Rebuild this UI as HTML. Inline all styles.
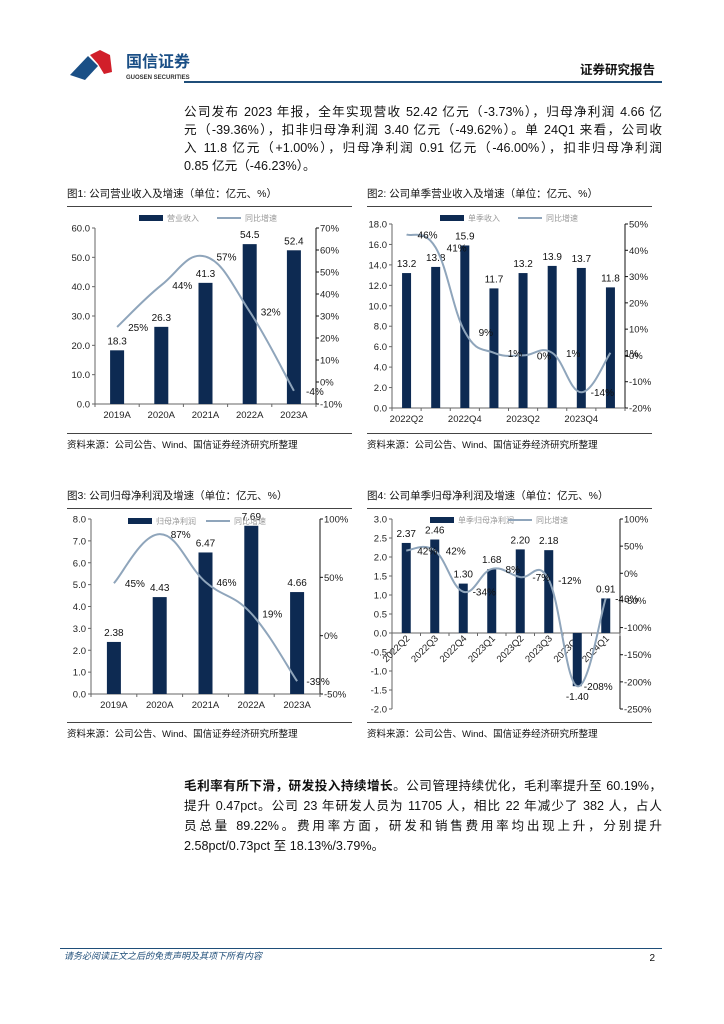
<!DOCTYPE html>
<html><head><meta charset="utf-8"><style>
body{margin:0;width:724px;height:1024px;background:#fff;position:relative;overflow:hidden;font-family:"Liberation Sans","Noto Sans CJK SC",sans-serif;}
.p{position:absolute;left:184px;width:478px;font-size:12.6px;line-height:18px;color:#111;text-align:justify;text-align-last:justify;}
.p span{display:block;}
.p span.last{text-align-last:left;}
svg{position:absolute;left:0;top:0;}
</style></head><body>
<svg width="724" height="1024" id="pg" font-family="Liberation Sans, Noto Sans CJK SC, sans-serif">
 <g>
  <polygon points="70,75 88,56 98,66 85,80" fill="#1a4f86"/>
  <polygon points="90,55 100,50 110,55 112,72 104,74 98,64" fill="#d11f2a"/>
  <text x="126" y="67" font-size="16" font-weight="bold" fill="#1a4f86">国信证券</text>
  <text x="126" y="79" font-size="6" font-weight="bold" fill="#333">GUOSEN SECURITIES</text>
 </g>
 <text x="655" y="74" text-anchor="end" font-size="12.5" font-weight="bold" fill="#111">证券研究报告</text>
 <rect x="184" y="81" width="478" height="2" fill="#1f4e79"/>
 <rect x="60" y="948" width="602" height="1" fill="#1f4e79"/>
 <text x="64" y="959" font-size="9" font-style="italic" fill="#1f4e79">请务必阅读正文之后的免责声明及其项下所有内容</text>
 <text x="655" y="961" font-size="10" text-anchor="end" fill="#111">2</text>
</svg>
<div class="p" style="top:103px">
<span>公司发布 2023 年报，全年实现营收 52.42 亿元（-3.73%），归母净利润 4.66 亿</span>
<span>元（-39.36%），扣非归母净利润 3.40 亿元（-49.62%）。单 24Q1 来看，公司收</span>
<span>入 11.8 亿元（+1.00%），归母净利润 0.91 亿元（-46.00%），扣非归母净利润</span>
<span class="last">0.85 亿元（-46.23%）。</span>
</div>
<div class="p" style="top:776px;line-height:20px">
<span><b>毛利率有所下滑，研发投入持续增长</b>。公司管理持续优化，毛利率提升至 60.19%，</span>
<span>提升 0.47pct。公司 23 年研发人员为 11705 人，相比 22 年减少了 382 人，占人</span>
<span>员总量 89.22%。费用率方面，研发和销售费用率均出现上升，分别提升</span>
<span class="last">2.58pct/0.73pct 至 18.13%/3.79%。</span>
</div>
<script>
const c1Cats=['2019A','2020A','2021A','2022A','2023A'];
const c1Bars=[18.3,26.3,41.3,54.5,52.4];
const c1Growth=[25,44,57,32,-4];
const c1LeftTicks=[0,10,20,30,40,50,60];
const c1RightTicks=[-10,0,10,20,30,40,50,60,70];
const c2Cats=['2022Q2','2022Q3','2022Q4','2023Q1','2023Q2','2023Q3','2023Q4','2024Q1'];
const c2Bars=[13.2,13.8,15.9,11.7,13.2,13.9,13.7,11.8];
const c2Growth=[46,41,9,1,0,1,-14,1];
const c2LeftTicks=[0,2,4,6,8,10,12,14,16,18];
const c2RightTicks=[-20,-10,0,10,20,30,40,50];
const c3Cats=['2019A','2020A','2021A','2022A','2023A'];
const c3Bars=[2.38,4.43,6.47,7.69,4.66];
const c3Growth=[45,87,46,19,-39];
const c3LeftTicks=[0,1,2,3,4,5,6,7,8];
const c3RightTicks=[-50,0,50,100];
const c4Cats=['2022Q2','2022Q3','2022Q4','2023Q1','2023Q2','2023Q3','2023Q4','2024Q1'];
const c4Bars=[2.37,2.46,1.30,1.68,2.20,2.18,-1.40,0.91];
const c4Growth=[42,42,-34,8,-7,-12,-208,-46];
const c4LeftTicks=[-2,-1.5,-1,-0.5,0,0.5,1,1.5,2,2.5,3];
const c4RightTicks=[-250,-200,-150,-100,-50,0,50,100];

const NS='http://www.w3.org/2000/svg';
const svg=document.getElementById('pg');
function mk(tag,attrs,parent,txt){const e=document.createElementNS(NS,tag);for(const k in attrs)e.setAttribute(k,attrs[k]);if(txt!==undefined)e.textContent=txt;(parent||svg).appendChild(e);return e;}
function smooth(pts){let d='M'+pts[0][0]+','+pts[0][1];for(let i=0;i<pts.length-1;i++){const p0=pts[i-1]||pts[i],p1=pts[i],p2=pts[i+1],p3=pts[i+2]||p2;const t=0.2;d+=' C'+(p1[0]+(p2[0]-p0[0])*t)+','+(p1[1]+(p2[1]-p0[1])*t)+' '+(p2[0]-(p3[0]-p1[0])*t)+','+(p2[1]-(p3[1]-p1[1])*t)+' '+p2[0]+','+p2[1];}return d;}

function chart(o){
 const g=mk('g',{});
 
 
 const t=mk('text',{x:o.x0,y:o.titleY,'font-size':10.5,fill:'#111'},g,o.title);
 
 
 mk('rect',{x:o.x0,y:o.titleY+9,width:285,height:1,fill:'#444'},g);
 mk('rect',{x:o.x0,y:o.botY,width:285,height:1,fill:'#444'},g);
 const src=mk('text',{x:o.x0,y:o.botY+15,'font-size':9.5,fill:'#111'},g,'资料来源：公司公告、Wind、国信证券经济研究所整理');
 
 
 const lmin=o.lt[0],lmax=o.lt[o.lt.length-1],rmin=o.rt[0],rmax=o.rt[o.rt.length-1];
 const yL=v=>o.pb-(v-lmin)/(lmax-lmin)*(o.pb-o.pt);
 const yR=v=>o.pb-(v-rmin)/(rmax-rmin)*(o.pb-o.pt);
 const n=o.cats.length,step=(o.ar-o.al)/n;
 const xC=i=>o.al+step*(i+0.5);
 mk('line',{x1:o.al,y1:o.pt,x2:o.al,y2:o.pb,stroke:'#666','stroke-width':1},g);
 mk('line',{x1:o.ar,y1:o.pt,x2:o.ar,y2:o.pb,stroke:'#111','stroke-width':1},g);
 const y0=yL(Math.max(0,lmin));
 mk('line',{x1:o.al,y1:y0,x2:o.ar,y2:y0,stroke:'#666','stroke-width':1},g);
 o.lt.forEach(v=>{const y=yL(v);mk('line',{x1:o.al-3,y1:y,x2:o.al,y2:y,stroke:'#666'},g);
  const e=mk('text',{x:o.al-5,y:y+3.5,'font-size':9.5,'text-anchor':'end',fill:'#222'},g,v.toFixed(1));
  });
 o.rt.forEach(v=>{const y=yR(v);mk('line',{x1:o.ar,y1:y,x2:o.ar+3,y2:y,stroke:'#111'},g);
  const e=mk('text',{x:o.ar+4,y:y+3.5,'font-size':9.5,fill:'#222'},g,v+'%');
  });
 for(let i=0;i<=n;i++){const x=o.al+step*i;mk('line',{x1:x,y1:y0,x2:x,y2:y0+3,stroke:'#666'},g);}
 o.cats.forEach((c,i)=>{
  if(o.rot){const e=mk('text',{x:xC(i)+4,y:y0+6,'font-size':9.5,'text-anchor':'end',fill:'#222',transform:'rotate(-45 '+(xC(i)+4)+' '+(y0+6)+')'},g,c);}
  else if(i%o.every===0){const e=mk('text',{x:xC(i),y:o.pb+14,'font-size':9.5,'text-anchor':'middle',fill:'#222'},g,c);}
 });
 o.bars.forEach((v,i)=>{const y=yL(v);
  const r=mk('rect',{x:xC(i)-o.bw/2,y:Math.min(y,y0),width:o.bw,height:Math.abs(y0-y),fill:'#0d2a52'},g);
  
  const ly=v>=0?y-6:y+14;
  const e=mk('text',{x:xC(i),y:ly,'font-size':10,'text-anchor':'middle',fill:'#111'},g,v.toFixed(o.dec));
  });
 const pts=o.growth.map((v,i)=>[xC(i),yR(v)]);
 const p=mk('path',{d:smooth(pts),fill:'none',stroke:'#8fa5bb','stroke-width':2},g);
 
 o.growth.forEach((v,i)=>{const e=mk('text',{x:xC(i)+21,y:yR(v)+4,'font-size':10,'text-anchor':'middle',fill:'#111'},g,Math.round(v)+'%');
  });
 const lg=mk('g',{},g);
 mk('rect',{x:o.lx,y:o.ly-3,width:24,height:6,fill:'#0d2a52'},lg);
 mk('text',{x:o.lx+28,y:o.ly+3,'font-size':8,fill:'#999'},lg,o.l1);
 mk('line',{x1:o.lx+78,y1:o.ly,x2:o.lx+102,y2:o.ly,stroke:'#8fa5bb','stroke-width':2},lg);
 mk('text',{x:o.lx+106,y:o.ly+3,'font-size':8,fill:'#999'},lg,'同比增速');
}
chart({name:'chart-annual-revenue',title:'图1: 公司营业收入及增速（单位：亿元、%）',x0:67,titleY:197,botY:433,al:95,ar:316,pt:228,pb:404,cats:c1Cats,bars:c1Bars,growth:c1Growth,lt:c1LeftTicks,rt:c1RightTicks,bw:14,dec:1,every:1,lx:139,ly:218,l1:'营业收入'});
chart({name:'chart-quarterly-revenue',title:'图2: 公司单季营业收入及增速（单位：亿元、%）',x0:367,titleY:197,botY:433,al:392,ar:625,pt:224,pb:408,cats:c2Cats,bars:c2Bars,growth:c2Growth,lt:c2LeftTicks,rt:c2RightTicks,bw:9,dec:1,every:2,lx:440,ly:218,l1:'单季收入'});
chart({name:'chart-annual-profit',title:'图3: 公司归母净利润及增速（单位：亿元、%）',x0:67,titleY:499,botY:722,al:91,ar:320,pt:519,pb:694,cats:c3Cats,bars:c3Bars,growth:c3Growth,lt:c3LeftTicks,rt:c3RightTicks,bw:14,dec:2,every:1,lx:128,ly:521,l1:'归母净利润'});
chart({name:'chart-quarterly-profit',title:'图4: 公司单季归母净利润及增速（单位：亿元、%）',x0:367,titleY:499,botY:722,al:392,ar:620,pt:519,pb:709,cats:c4Cats,bars:c4Bars,growth:c4Growth,lt:c4LeftTicks,rt:c4RightTicks,bw:9,dec:2,every:1,rot:true,lx:430,ly:520,l1:'单季归母净利润'});
</script>
</body></html>
